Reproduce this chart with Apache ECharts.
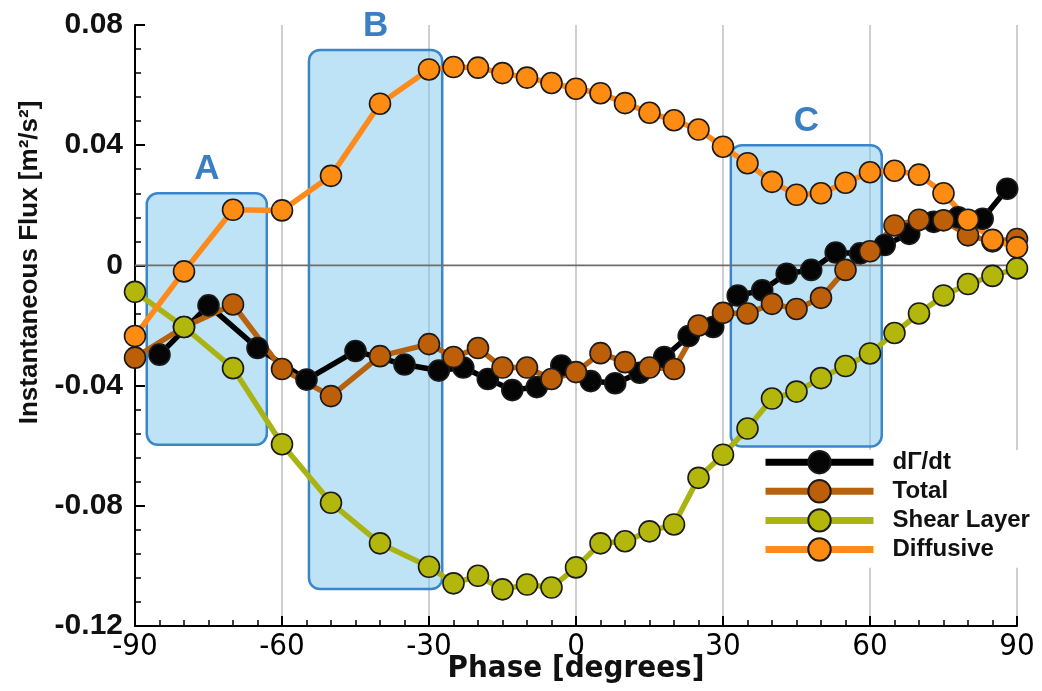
<!DOCTYPE html>
<html>
<head>
<meta charset="utf-8">
<script src="https://cdn.jsdelivr.net/npm/echarts@6/dist/echarts.min.js"></script>
<style>
  html, body { margin: 0; padding: 0; background: #ffffff; }
  #chart { width: 1042px; height: 691px; }
</style>
</head>
<body>
<div id="chart"></div>
<script>
// Phase angles (degrees) shared by the Total, Shear Layer and Diffusive series
const phase = [-90, -80, -70, -60, -50, -40, -30, -25, -20, -15, -10, -5, 0, 5, 10, 15,
               20, 25, 30, 35, 40, 45, 50, 55, 60, 65, 70, 75, 80, 85, 90];

// Instantaneous flux [m^2/s^2]
const totalFlux = [-0.0307, -0.0205, -0.0130, -0.0345, -0.0435, -0.0302, -0.0262, -0.0305,
                   -0.0275, -0.0340, -0.0340, -0.0378, -0.0355, -0.0292, -0.0322, -0.0340,
                   -0.0345, -0.0200, -0.0158, -0.0160, -0.0128, -0.0145, -0.0108, -0.0015,
                   0.0047, 0.0133, 0.0152, 0.0150, 0.0100, 0.0080, 0.0088];

const shearLayerFlux = [-0.0088, -0.0205, -0.0342, -0.0595, -0.0790, -0.0925, -0.1003, -0.1058,
                        -0.1033, -0.1078, -0.1062, -0.1072, -0.1005, -0.0925, -0.0918, -0.0885,
                        -0.0862, -0.0707, -0.0630, -0.0543, -0.0443, -0.0420, -0.0375, -0.0335,
                        -0.0293, -0.0225, -0.0160, -0.0100, -0.0062, -0.0035, -0.0010];

const diffusiveFlux = [-0.0235, -0.0020, 0.0185, 0.0183, 0.0298, 0.0538, 0.0652, 0.0660,
                       0.0658, 0.0640, 0.0625, 0.0607, 0.0588, 0.0573, 0.0540, 0.0508,
                       0.0483, 0.0452, 0.0395, 0.0340, 0.0278, 0.0235, 0.0240, 0.0275,
                       0.0310, 0.0315, 0.0302, 0.0240, 0.0152, 0.0085, 0.0060];

// Circulation rate of change, sampled at its own phases
const circulationPhase = [-85, -75, -65, -55, -45, -35, -28, -23, -18, -13, -8, -3, 3, 8, 13,
                          18, 23, 28, 33, 38, 43, 48, 53, 58, 63, 68, 73, 78, 83, 88];
const circulationRate = [-0.0297, -0.0133, -0.0275, -0.0380, -0.0285, -0.0330, -0.0350, -0.0340,
                         -0.0378, -0.0415, -0.0405, -0.0333, -0.0385, -0.0392, -0.0357, -0.0305,
                         -0.0235, -0.0205, -0.0100, -0.0083, -0.0028, -0.0015, 0.0043, 0.0040,
                         0.0068, 0.0105, 0.0145, 0.0160, 0.0155, 0.0255];

// Highlighted phase windows (phase range, flux range) and their labels
const regionLabels = ['A', 'B', 'C'];
const regionPhase = [[-87.6, -63.1], [-54.5, -27.3], [31.6, 62.4]];
const regionFlux = [[-0.0597, 0.0240], [-0.1077, 0.0717], [-0.0603, 0.0400]];

const seriesNames = ['d\u0393/dt', 'Total', 'Shear Layer', 'Diffusive'];

const pairs = (xs, ys) => xs.map((x, i) => [x, ys[i]]);
const SANS = '"Liberation Sans", Arial, Helvetica, sans-serif';
const NARROW = '"Liberation Sans Narrow", "DejaVu Sans Condensed", "Liberation Sans", sans-serif';

function fluxSeries(name, xs, ys, lineColor, markerColor) {
  return {
    name: name,
    type: 'line',
    data: pairs(xs, ys),
    symbol: 'circle',
    symbolSize: 21,
    showAllSymbol: true,
    lineStyle: { color: lineColor, width: 5.5 },
    itemStyle: { color: markerColor, borderColor: '#1a1a1a', borderWidth: 1.6 },
    emphasis: { disabled: true },
    z: 3
  };
}

const chart = echarts.init(document.getElementById('chart'), null, { renderer: 'canvas' });

chart.setOption({
  animation: false,
  backgroundColor: '#ffffff',
  grid: { left: 135, right: 25, top: 25, bottom: 65, containLabel: false, outerBoundsMode: 'none' },
  xAxis: {
    type: 'value',
    min: -90,
    max: 90,
    interval: 30,
    axisLine: { show: true, onZero: false, lineStyle: { color: '#000', width: 2 } },
    axisTick: { show: true, inside: true, length: 10, lineStyle: { color: '#000', width: 2 } },
    minorTick: { show: true, splitNumber: 6, length: 6, lineStyle: { color: '#000', width: 1.5 } },
    axisLabel: { color: '#000', fontSize: 31, fontFamily: NARROW, margin: 5 },
    splitLine: { show: true, lineStyle: { color: '#cfcfcf', width: 2 } },
    name: 'Phase [degrees]',
    nameLocation: 'middle',
    nameGap: 27,
    nameMoveOverlap: false,
    nameTextStyle: { color: '#111', fontSize: 31, fontWeight: 'bold', fontFamily: NARROW }
  },
  yAxis: {
    type: 'value',
    min: -0.12,
    max: 0.08,
    interval: 0.04,
    axisLine: { show: true, onZero: false, lineStyle: { color: '#000', width: 2 } },
    axisTick: { show: true, inside: true, length: 10, lineStyle: { color: '#000', width: 2 } },
    minorTick: { show: true, splitNumber: 5, length: 6, lineStyle: { color: '#000', width: 1.5 } },
    axisLabel: {
      color: '#111', fontSize: 30, fontWeight: 'bold', fontFamily: SANS, margin: 12,
      formatter: v => (Math.abs(v) < 1e-9 ? '0' : v.toFixed(2))
    },
    splitLine: { show: false },
    name: 'Instantaneous Flux [m\u00b2/s\u00b2]',
    nameLocation: 'middle',
    nameGap: 92,
    nameMoveOverlap: false,
    nameTextStyle: {
      color: '#111', fontSize: 26, fontWeight: 'bold', fontFamily: SANS,
      padding: [0, 0, 0, 126]
    }
  },
  legend: {
    orient: 'vertical',
    left: 758,
    top: 450,
    data: seriesNames,
    itemWidth: 108,
    itemHeight: 28,
    itemGap: 4.7,
    padding: [0, 14, 6, 4],
    backgroundColor: '#ffffff',
    selectedMode: false,
    lineStyle: { width: 7 },
    textStyle: { color: '#111', fontSize: 24, fontWeight: 'bold', fontFamily: SANS, padding: [0, 0, 0, 14] }
  },
  series: [
    {
      // shaded phase windows with their letters
      type: 'custom',
      z: 1,
      silent: true,
      clip: false,
      data: regionPhase.map((r, i) => [r[0], regionFlux[i][0]]),
      encode: { x: 0, y: 1 },
      renderItem: function (params, api) {
        const i = params.dataIndex;
        const topLeft = api.coord([regionPhase[i][0], regionFlux[i][1]]);
        const bottomRight = api.coord([regionPhase[i][1], regionFlux[i][0]]);
        return {
          type: 'group',
          children: [
            {
              type: 'rect',
              shape: {
                x: topLeft[0], y: topLeft[1],
                width: bottomRight[0] - topLeft[0],
                height: bottomRight[1] - topLeft[1],
                r: 11
              },
              style: { fill: 'rgba(125, 200, 240, 0.5)', stroke: '#3b86c8', lineWidth: 2.5 }
            },
            {
              type: 'text',
              x: (topLeft[0] + bottomRight[0]) / 2,
              y: topLeft[1] - 24,
              style: {
                text: regionLabels[i],
                fill: '#3a7fc2',
                font: 'bold 35px ' + SANS,
                align: 'center',
                verticalAlign: 'middle'
              }
            }
          ]
        };
      }
    },
    {
      // zero reference line
      type: 'line',
      z: 2,
      silent: true,
      symbol: 'none',
      data: [[-90, 0], [90, 0]],
      lineStyle: { color: '#6e6e6e', width: 1.6 },
      emphasis: { disabled: true },
      tooltip: { show: false }
    },
    fluxSeries(seriesNames[0], circulationPhase, circulationRate, '#000000', '#050505'),
    fluxSeries(seriesNames[1], phase, totalFlux, '#b6620f', '#bd5e08'),
    fluxSeries(seriesNames[2], phase, shearLayerFlux, '#a9b414', '#b3b70c'),
    fluxSeries(seriesNames[3], phase, diffusiveFlux, '#ff8a1c', '#ff8c12')
  ]
});
</script>
</body>
</html>
